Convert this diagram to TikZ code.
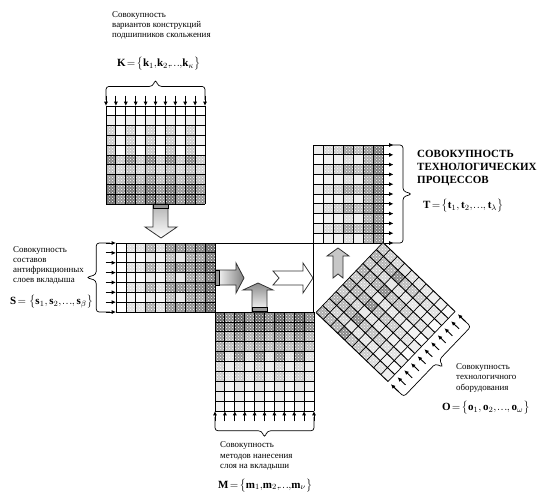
\documentclass[tikz,border=0pt]{standalone}
\usepackage{amsmath}
\usepackage{fontspec}
\setmainfont{Liberation Serif}
\usetikzlibrary{arrows.meta,patterns}

\tikzset{
  gridK/.style={shift={(106,106)},x={(0pt,-9.8pt)},y={(9.9pt,0pt)}},
  gridS/.style={shift={(116,243)},x={(9.9pt,0pt)},y={(0pt,-9.86pt)}},
  gridM/.style={shift={(215,411)},x={(0pt,9.9pt)},y={(9.9pt,0pt)}},
  gridT/.style={shift={(313,145)},x={(10pt,0pt)},y={(0pt,-9.8pt)}},
  gridO/.style={shift={(388,381.5)},x={(-7.2pt,6.9pt)},y={(6.7pt,7pt)}},
  rulealong/.style={line width=0.95pt},
  ruleacross/.style={line width=0.7pt},
  feedarrow/.style={line width=0.9pt,-{Latex[length=4.4pt,width=4.2pt]}},
  bracket/.style={line width=0.7pt,rounded corners=3pt},
  blockarrow/.style={draw=black!80,line width=0.8pt,line join=miter},
  captionbox/.style={anchor=west,align=left,inner sep=0pt,font=\fontsize{8.9}{10.2}\selectfont},
  formulabox/.style={anchor=west,inner sep=0pt,font=\fontsize{11}{13}\selectfont},
}

% tight dots for the set formulas
\newcommand\setdots{\mkern-2mu.\mkern1mu.\mkern1mu.\mkern-1mu}

% levels: tone/spread per step along the gradient axis
\newcommand\matcells[3]{
  \foreach \lev/\amp [count=\r from 0] in {#1} {
    \foreach \c in {0,...,#2} {
      \pgfmathsetmacro\tone{0.85*max(0,min(100,\lev+\amp*(1-2*mod(\c+#3*\r,2))))}
      \fill[black!\tone] (\r,\c) -- (\r+1,\c) -- (\r+1,\c+1) -- (\r,\c+1) -- cycle;
      \ifdim\tone pt>10pt
        \fill[pattern=crosshatch dots,pattern color=white] (\r,\c) -- (\r+1,\c) -- (\r+1,\c+1) -- (\r,\c+1) -- cycle;
      \fi
    }
  }
}
\newcommand\matlines[2]{
  \foreach \c in {0,...,#2} {\draw[rulealong] (0,\c) -- (#1,\c);}
  \foreach \r in {0,...,#1} {\draw[ruleacross] (\r,0) -- (\r,#2);}
}
\newcommand\matfeed[4]{
  \foreach \c in {0,...,#2} {
    \coordinate (#1from\c) at (#3,\c);
    \coordinate (#1to\c) at (#4,\c);
    \draw[feedarrow] (#1from\c) -- (#1to\c);
  }
}
\newcommand\matbrace[4]{
  \draw[bracket] (#2,0) -- (#3,0) -- (#3,#1/2-0.3) -- (#4,#1/2) -- (#3,#1/2+0.3) -- (#3,#1) -- (#2,#1);
}

\begin{document}
\begin{tikzpicture}[x=1pt,y=-1pt]
\useasboundingbox (0,0) rectangle (538,491);

\begin{scope}[gridK]
  \matcells{0/0,6/2,13/9,14/9,14/12,40/16,25/5,38/8,55/8,58/8}{9}{0}
  \matlines{10}{10}
  \matfeed{k}{10}{-1.05}{0}
  \matbrace{10}{-0.6}{-2}{-2.7}
\end{scope}

\begin{scope}[gridS]
  \matcells{0/0,9/5,8/5,24/14,10/5,40/10,30/20,45/5,50/8,64/5}{6}{0}
  \matlines{10}{7}
  \matfeed{s}{7}{-1.05}{0}
  \matbrace{7}{-0.6}{-2}{-3}
\end{scope}

\begin{scope}[gridM]
  \matcells{3/2,5/3,8/3,18/6,14/6,32/18,35/5,42/8,60/6,62/8}{9}{0}
  \matlines{10}{10}
  \matfeed{m}{10}{-1.05}{0}
  \matbrace{10}{-0.6}{-2}{-2.7}
\end{scope}

\begin{scope}[gridT]
  \matcells{5/3,12/6,15/8,30/14,20/12,42/6,55/6}{9}{0}
  \matlines{7}{10}
  \matfeed{t}{10}{7}{8.05}
  \matbrace{10}{7.6}{9}{9.9}
\end{scope}

\begin{scope}[gridO]
  \matcells{5/3,10/4,12/5,18/6,20/8,22/8,32/22,28/8,28/6,32/6}{9}{0}
  \matlines{10}{10}
  \matfeed{o}{10}{-1.5}{-0.4}
  \matbrace{10}{-0.9}{-2.2}{-3}
\end{scope}

% frame between the matrices
\coordinate (frameS) at (215,243);
\coordinate (frameT) at (313,243);
\coordinate (frameM) at (313,312);
\draw[line width=1pt] (frameS) -- (frameT) -- (frameM);

% block arrows
\draw[blockarrow,top color=black!30,bottom color=white] (153,204) -- (168,204) -- (168,227) -- (177,227) -- (161,238) -- (145,227) -- (153,227) -- cycle;
\draw[blockarrow,left color=white,right color=black!50] (215,270) -- (236,270) -- (236,263) -- (244,278) -- (236,293) -- (236,285) -- (215,285) -- cycle;
\draw[blockarrow,top color=black!45,bottom color=white] (252,312) -- (252,290) -- (243,290) -- (258,283) -- (273,290) -- (267,290) -- (267,312) -- cycle;
\draw[blockarrow,fill=white] (273,271) -- (303,271) -- (303,263) -- (313,278) -- (303,293) -- (303,285) -- (273,285) -- (279,278) -- cycle;
\draw[blockarrow,fill=black!22] (333,256) -- (327,256) -- (338,248) -- (349,256) -- (343,256) -- (343,278) -- (338,274) -- (333,278) -- cycle;
% bands at the foot of the arrows
\draw[line width=1pt,fill=black!40] (153,204) rectangle (168,208);
\draw[line width=1pt,fill=black!40] (215,270) rectangle (219,285);
\draw[line width=1pt,fill=black!40] (252,307) rectangle (267,311);

% captions
\node[captionbox] (textK) at (112,25.5) {Совокупность\\вариантов конструкций\\подшипников скольжения};
\node[captionbox] (textS) at (13,265.5) {Совокупность\\составов\\антифрикционных\\слоев вкладыша};
\node[captionbox] (textM) at (220,456) {Совокупность\\методов нанесения\\слоя на вкладыши};
\node[captionbox] (textO) at (456,378) {Совокупность\\технологичного\\оборудования};
\node[captionbox,font=\fontsize{11}{13}\bfseries\selectfont] (textT) at (417,168) {СОВОКУПНОСТЬ\\ТЕХНОЛОГИЧЕСКИХ\\ПРОЦЕССОВ};

\node[formulabox] (setK) at (117,64) {$\mathbf{K}\!=\!\bigl\{\mathbf{k}_1,\!\mathbf{k}_2,\!\setdots,\!\mathbf{k}_\kappa\bigr\}$};
\node[formulabox] (setS) at (10,302) {$\mathbf{S}\!=\bigl\{\mathbf{s}_1,\mathbf{s}_2,\setdots,\mathbf{s}_\beta\bigr\}$};
\node[formulabox] (setM) at (218,485.5) {$\mathbf{M}\!=\!\bigl\{\mathbf{m}_1,\!\mathbf{m}_2,\!\setdots,\!\mathbf{m}_\nu\bigr\}$};
\node[formulabox] (setT) at (423,206) {$\mathbf{T}\!=\!\bigl\{\mathbf{t}_1,\mathbf{t}_2,\setdots,\mathbf{t}_\lambda\bigr\}$};
\node[formulabox] (setO) at (442,408) {$\mathbf{O}\!=\!\bigl\{\mathbf{o}_1,\mathbf{o}_2,\setdots,\mathbf{o}_\omega\bigr\}$};
\end{tikzpicture}
\end{document}
